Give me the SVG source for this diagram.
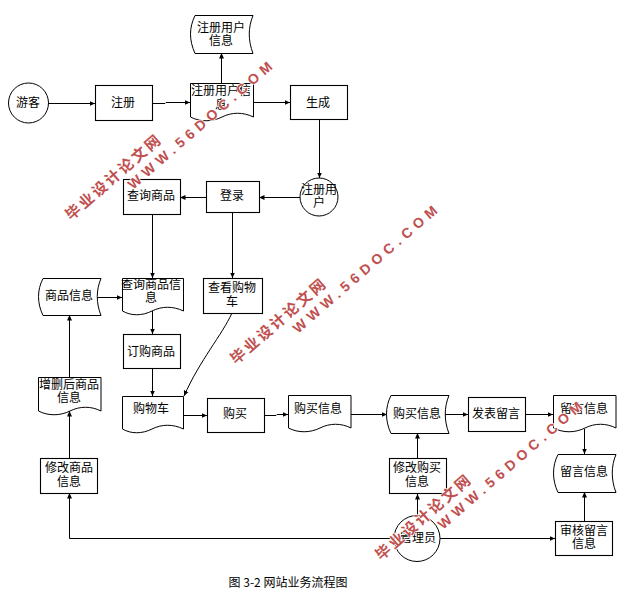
<svg xmlns="http://www.w3.org/2000/svg" width="638" height="606" viewBox="0 0 638 606">
<style>
.s{fill:#fff;stroke:#000;stroke-width:1}
.b{fill:#fff;stroke:#000;stroke-width:1.1}
.t{font:12px "Noto Sans CJK SC","Liberation Sans",sans-serif;fill:#000;text-anchor:middle}
.c{fill:none;stroke:#000;stroke-width:1;marker-end:url(#a)}
.w1{font:bold 15px "Noto Sans CJK SC",sans-serif;letter-spacing:2.5px;fill:#c0504f;stroke:#fff;stroke-width:1.4;paint-order:stroke}
.w2{font:bold 14px "Liberation Sans",sans-serif;letter-spacing:5px;fill:#c0504f;stroke:#fff;stroke-width:1.4;paint-order:stroke}
</style>
<defs>
<marker id="a" markerUnits="userSpaceOnUse" markerWidth="7" markerHeight="7" refX="5.500" refY="3" orient="auto"><path d="M0 .5L5.500 3L0 5.500Z" fill="#000"/></marker>
</defs>
<rect width="638" height="606" fill="#fff"/>
<g id="connectors">
<path class="c" d="M49 103.500H95"/>
<path class="c" d="M153 103.500H165L166 102.500H190"/>
<path class="c" d="M253 102.500H290"/>
<path class="c" d="M221.500 83V53"/>
<path class="c" d="M319.500 119V178"/>
<path class="c" d="M300 197.500H259"/>
<path class="c" d="M206 197.500H180"/>
<path class="c" d="M152.500 214V278"/>
<path class="c" d="M232.500 212V278"/>
<path class="c" d="M97 297.500H122"/>
<path class="c" d="M152.500 311V334"/>
<path class="c" d="M152.500 368V396"/>
<path class="c" d="M232 313C222 335 200 360 184 396"/>
<path class="c" d="M69.500 377V315"/>
<path class="c" d="M69.500 458V411"/>
<path class="c" d="M183 415.500H207"/>
<path class="c" d="M264 415.500H276L277 414.500H288"/>
<path class="c" d="M351 414.500H387"/>
<path class="c" d="M445 414.500H468"/>
<path class="c" d="M525 414.500H553"/>
<path class="c" d="M584.500 429V454"/>
<path class="c" d="M584.500 521V492"/>
<path class="c" d="M417.500 458V433"/>
<path class="c" d="M417.500 515V494"/>
<path class="c" d="M440 538.500H555"/>
<path class="c" d="M394 538.500H69.500V493"/>
</g>
<g id="n-top"><path class="s" d="M195 15.500H253C248 28 248 40 253 53.500H195C189 40 189 28 195 15.500Z"/><text class="t" x="221" y="32">注册用户</text><text class="t" x="221" y="45">信息</text></g>
<g id="n-guest"><circle class="s" cx="28.500" cy="103" r="20"/><text class="t" x="28" y="107">游客</text></g>
<g id="n-reg"><rect class="b" x="95.500" y="85.500" width="57" height="35"/><text class="t" x="123" y="107">注册</text></g>
<g id="n-regdoc"><path class="s" d="M190.500 83.500H253.500V117C243 112 232 112 222 117C212 122 200 122 190.500 117Z"/><text class="t" x="221" y="95">注册用户信</text><text class="t" x="221" y="109">息</text></g>
<g id="n-gen"><rect class="b" x="290.500" y="85.500" width="57" height="34"/><text class="t" x="318" y="107">生成</text></g>
<g id="n-user"><circle class="s" cx="319" cy="197" r="19"/><text class="t" x="319" y="194">注册用</text><text class="t" x="319" y="207">户</text></g>
<g id="n-login"><rect class="b" x="206.500" y="181.500" width="53" height="31"/><text class="t" x="232" y="200">登录</text></g>
<g id="n-query"><rect class="b" x="123.500" y="179.500" width="57" height="35"/><text class="t" x="151" y="200">查询商品</text></g>
<g id="n-goods"><path class="s" d="M43 278.500H101C96 290 96 303 101 315.500H43C37 303 37 290 43 278.500Z"/><text class="t" x="69" y="300">商品信息</text></g>
<g id="n-querydoc"><path class="s" d="M122.500 278.500H183.500V311C173 306 162 306 152 311C142 316 131 316 122.500 311Z"/><text class="t" x="151" y="289">查询商品信</text><text class="t" x="151" y="302">息</text></g>
<g id="n-view"><rect class="b" x="203.500" y="278.500" width="59" height="35"/><text class="t" x="232" y="292">查看购物</text><text class="t" x="232" y="306">车</text></g>
<g id="n-order"><rect class="b" x="123.500" y="334.500" width="57" height="34"/><text class="t" x="151" y="356">订购商品</text></g>
<g id="n-edited"><path class="s" d="M38.500 377.500H101V411C91 406 80 406 70 411C60 416 48 416 38.500 411Z"/><text class="t" x="69" y="389">增删后商品</text><text class="t" x="69" y="402">信息</text></g>
<g id="n-cart"><path class="s" d="M122.500 396.500H183.500V429C173 424 162 424 152 429C142 434 131 434 122.500 429Z"/><text class="t" x="151" y="413">购物车</text></g>
<g id="n-buy"><rect class="b" x="207.500" y="398.500" width="57" height="34"/><text class="t" x="235" y="418">购买</text></g>
<g id="n-buydoc"><path class="s" d="M288.500 395.500H351V428C341 423 330 423 320 428C310 433 298 433 288.500 428Z"/><text class="t" x="318" y="413">购买信息</text></g>
<g id="n-buystore"><path class="s" d="M391 395.500H449C444 407 444 421 449 433.500H391C385 421 385 407 391 395.500Z"/><text class="t" x="417" y="418">购买信息</text></g>
<g id="n-post"><rect class="b" x="468.500" y="397.500" width="57" height="34"/><text class="t" x="496" y="418">发表留言</text></g>
<g id="n-msgdoc"><path class="s" d="M553.500 395.500H616V428C606 423 595 423 585 428C575 433 563 433 553.500 428Z"/><text class="t" x="584" y="413">留言信息</text></g>
<g id="n-msgstore"><path class="s" d="M558 454.500H616C611 466 611 480 616 492.500H558C552 480 552 466 558 454.500Z"/><text class="t" x="584" y="476">留言信息</text></g>
<g id="n-editbuy"><rect class="b" x="389.500" y="458.500" width="57" height="35"/><text class="t" x="417" y="472">修改购买</text><text class="t" x="417" y="486">信息</text></g>
<g id="n-editgoods"><rect class="b" x="40.500" y="458.500" width="57" height="35"/><text class="t" x="69" y="472">修改商品</text><text class="t" x="69" y="486">信息</text></g>
<g id="n-admin"><circle class="s" cx="417" cy="538.500" r="23"/><text class="t" x="418" y="542">管理员</text></g>
<g id="n-audit"><rect class="b" x="555.500" y="521.500" width="57" height="34"/><text class="t" x="584" y="535">审核留言</text><text class="t" x="584" y="548">信息</text></g>
<text class="t" x="288" y="587">图 3-2 网站业务流程图</text>
<g id="watermarks">
<text class="w1" transform="translate(71 221) rotate(-41)">毕业设计论文网</text>
<text class="w2" transform="translate(133 190) rotate(-41)">WWW.56DOC.COM</text>
<text class="w1" transform="translate(236 365) rotate(-41)">毕业设计论文网</text>
<text class="w2" transform="translate(298 334) rotate(-41)">WWW.56DOC.COM</text>
<text class="w1" transform="translate(381 561) rotate(-41)">毕业设计论文网</text>
<text class="w2" transform="translate(443 530) rotate(-41)">WWW.56DOC.COM</text>
</g>
</svg>
